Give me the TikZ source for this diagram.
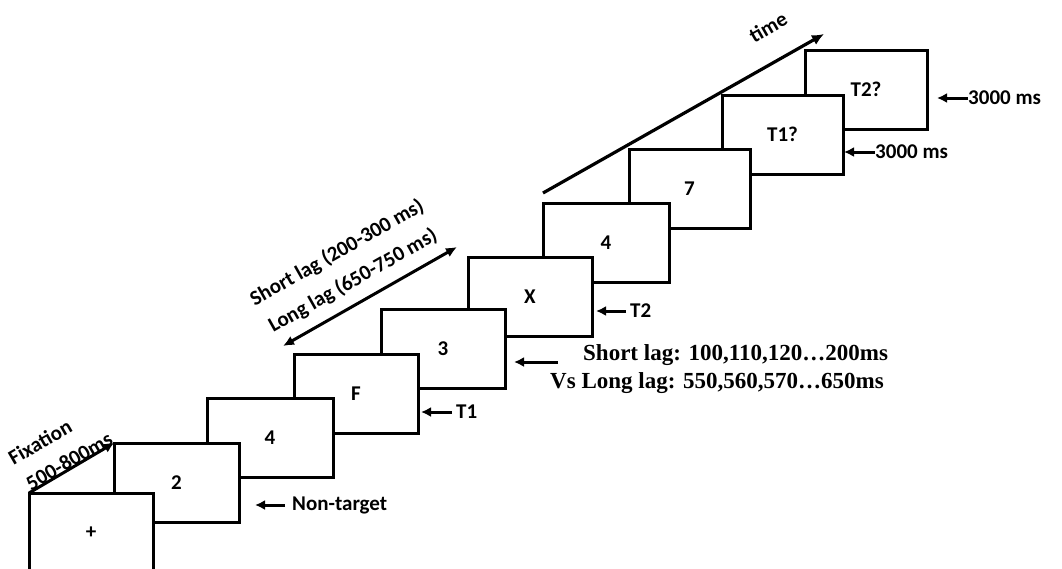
\documentclass[tikz,border=0pt]{standalone}
\usepackage{fontspec}
\setmainfont{Carlito}
\newfontfamily\timesfont{Liberation Serif}
\usetikzlibrary{arrows.meta}

\tikzset{
  frame/.style={draw, line width=3pt, fill=white, anchor=north west,
    minimum width=124pt, minimum height=79pt, inner sep=0pt, outer sep=0pt,
    font=\fontsize{21}{24}\selectfont\bfseries},
  lbl/.style={font=\fontsize{21}{24}\selectfont\bfseries, inner sep=0pt},
  ptr/.style={line width=3pt, -{Latex[length=10pt,width=10pt]}},
  slant/.style={lbl, rotate=#1, anchor=center},
  note/.style={anchor=base west, inner sep=0pt,
    font=\timesfont\fontsize{23}{26}\selectfont\bfseries}
}

\begin{document}
\begin{tikzpicture}[x=1pt, y=-1pt]
  \path[use as bounding box] (0,0) rectangle (1062,568);
  \clip (0,0) rectangle (1062,568);

  % stimulus frames, back to front
  \node[frame, minimum width=122pt] (f9) at (805,50)  {T2?};
  \node[frame, minimum width=121pt] (f8) at (722,95)  {T1?};
  \node[frame, minimum width=121pt] (f7) at (629,149) {7};
  \node[frame, minimum width=126pt] (f6) at (543,203) {4};
  \node[frame] (f5) at (468,257) {X};
  \node[frame] (f4) at (381,309) {3};
  \node[frame] (f3) at (294,354) {F};
  \node[frame, minimum width=126pt] (f2) at (207,398) {4};
  \node[frame, minimum width=125pt] (f1) at (114,443) {2};
  \node[frame, minimum width=124pt, minimum height=80pt] (f0) at (29,493) {};
  \node[lbl] (plus) at (91,533) {+};

  % fixation arrow
  \draw[ptr] (f0.north west) -- (f1.north west);
  \node[slant=30] (fixa) at (40,442) {Fixation};
  \node[slant=30] (fixb) at (69,461) {500-800ms};

  % time axis
  \coordinate (t0) at (543,193);
  \coordinate (t1) at (824,34);
  \draw[line width=3.2pt, -{Latex[length=12pt,width=11pt]}] (t0) -- (t1);
  \node[slant=30] (time) at (768,27) {time};

  % lag span
  \coordinate (l0) at (283,346);
  \coordinate (l1) at (457,247);
  \draw[line width=3pt, {Latex[length=11pt,width=10pt]}-{Latex[length=11pt,width=10pt]}] (l0) -- (l1);
  \node[slant=29.5] (shortlag) at (337,253) {Short lag (200-300 ms)};
  \node[slant=29.5] (longlag) at (353,281) {Long lag (650-750 ms)};

  % side labels
  \node[lbl, anchor=west] (nt) at (292,505) {Non-target};
  \coordinate (ntp) at (255,505);
  \draw[ptr] ([xshift=-7pt]nt.west) -- (ntp);

  \node[lbl, anchor=west] (ta) at (456,412) {T1};
  \coordinate (tap) at (421,412);
  \draw[ptr] ([xshift=-4pt]ta.west) -- (tap);

  \node[lbl, anchor=west] (tb) at (630,311) {T2};
  \coordinate (tbp) at (596,311);
  \draw[ptr] ([xshift=-4pt]tb.west) -- (tbp);

  \coordinate (lagp) at (514,362);
  \coordinate (lagt) at (558,362);
  \draw[ptr] (lagt) -- (lagp);
  \node[note] (shortnote) at (583,360) {Short lag: 100,110,120…200ms};
  \node[note] (longnote) at (550,388) {Vs Long lag: 550,560,570…650ms};

  \node[lbl, anchor=west] (ra) at (875,152) {3000 ms};
  \coordinate (rap) at (844,152);
  \draw[ptr] (ra.west) -- (rap);

  \node[lbl, anchor=west] (rb) at (968,98) {3000 ms};
  \coordinate (rbp) at (937,98);
  \draw[ptr] (rb.west) -- (rbp);
\end{tikzpicture}
\end{document}
